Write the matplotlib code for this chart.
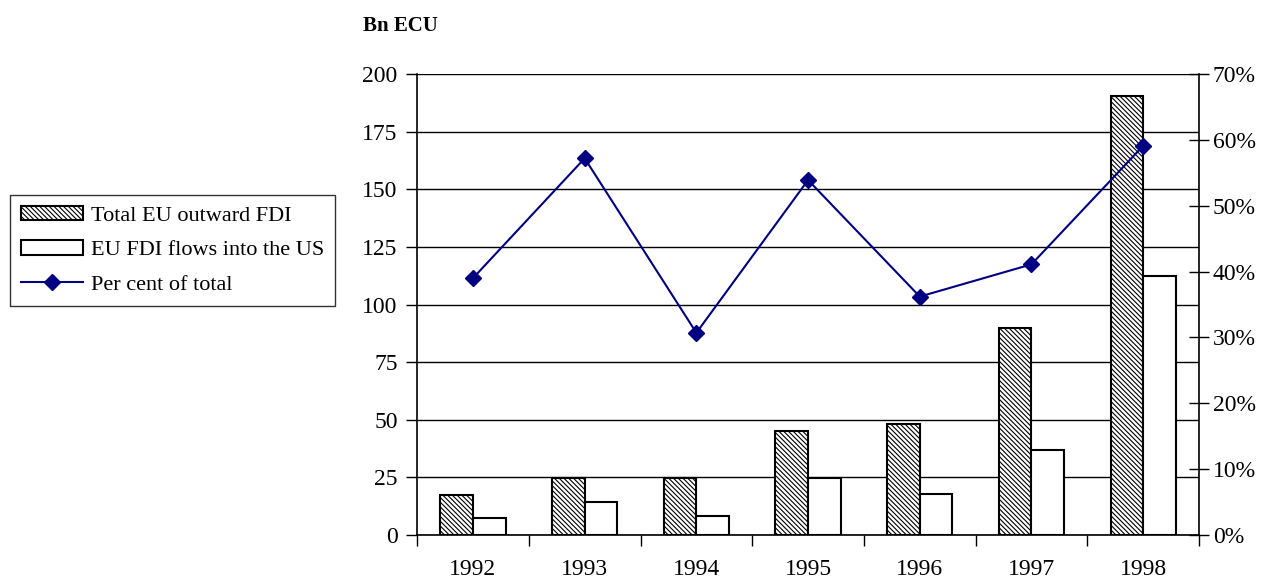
import matplotlib
matplotlib.use("Agg")
import matplotlib.pyplot as plt
import numpy as np
from matplotlib.ticker import FixedLocator, NullFormatter, FuncFormatter

years = ["1992", "1993", "1994", "1995", "1996", "1997", "1998"]
total_outward = [17.4, 24.6, 24.6, 45.2, 48.2, 89.9, 190.5]
flows_us = [7.2, 14.3, 8.2, 24.6, 17.6, 36.9, 112.4]
pct_total = [39.0, 57.2, 30.7, 53.9, 36.2, 41.1, 59.1]

plt.rcParams['font.family'] = ['Liberation Serif', 'DejaVu Serif']
plt.rcParams['hatch.linewidth'] = 0.8

fig = plt.figure(figsize=(12.64, 5.81), dpi=100)
ax = fig.add_axes([0.330, 0.0792, 0.6186, 0.7934])

x = np.arange(len(years))
w = 0.292
ax.bar(x - w/2, total_outward, w, facecolor='white', edgecolor='black',
       hatch='\\\\\\\\\\\\\\', linewidth=1.5, label='Total EU outward FDI', zorder=3)
ax.bar(x + w/2, flows_us, w, facecolor='white', edgecolor='black',
       linewidth=1.5, label='EU FDI flows into the US', zorder=3)

ax.set_xlim(-0.5, len(years) - 0.5)
ax.set_ylim(0, 200)
ax.set_yticks(np.arange(0, 201, 25))
ax.yaxis.grid(True, color='black', linewidth=1.0, zorder=0)
ax.set_axisbelow(True)
ax.xaxis.set_major_locator(FixedLocator(np.arange(-0.5, len(years), 1.0)))
ax.xaxis.set_major_formatter(NullFormatter())
ax.xaxis.set_minor_locator(FixedLocator(x))
ax.set_xticklabels(years, minor=True)
ax.tick_params(axis='x', which='major', direction='out', length=8, width=1)
ax.tick_params(axis='x', which='minor', length=0, pad=17, labelsize=17)
ax.tick_params(axis='y', direction='out', length=8, width=1, labelsize=17, pad=6)
for s in ['top', 'right']:
    ax.spines[s].set_visible(False)
ax.spines['left'].set_linewidth(1.2)
ax.spines['bottom'].set_linewidth(1.2)

ax2 = ax.twinx()
ax2.set_ylim(0, 70)
ax2.set_yticks(np.arange(0, 71, 10))
ax2.yaxis.set_major_formatter(FuncFormatter(lambda v, p: f"{int(v)}%"))
ax2.tick_params(axis='y', direction='inout', length=14, width=1, labelsize=17, pad=3)
for s in ['top', 'left', 'bottom']:
    ax2.spines[s].set_visible(False)
ax2.spines['right'].set_linewidth(1.2)
ax2.plot(x, pct_total, color='#000080', linewidth=1.5, marker='D', markersize=8,
         label='Per cent of total', zorder=5)

h1, l1 = ax.get_legend_handles_labels()
h2, l2 = ax2.get_legend_handles_labels()
leg = fig.legend(h1 + h2, l1 + l2, loc='upper left',
                 bbox_to_anchor=(10/1264, 1 - 195/581), bbox_transform=fig.transFigure,
                 fontsize=16, frameon=True, fancybox=False, edgecolor='black',
                 handlelength=2.8, handleheight=0.6, borderpad=0.5, labelspacing=0.65,
                 handletextpad=0.35, borderaxespad=0)
leg.get_frame().set_linewidth(1.0)

fig.text(363/1264, 1 - 26/581, "Bn ECU", fontsize=15, fontweight='bold', va='center', ha='left')

fig.savefig("out.png", dpi=100)
